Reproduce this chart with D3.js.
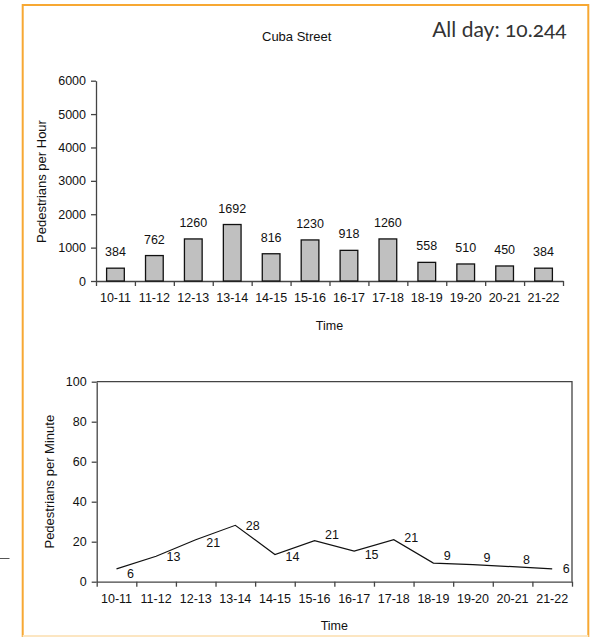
<!DOCTYPE html>
<html>
<head>
<meta charset="utf-8">
<script src="https://cdn.jsdelivr.net/npm/d3@7"></script>
<style>
  html, body { margin: 0; padding: 0; background: #fff; }
  svg { display: block; }
  text { font-family: "Liberation Sans", Arial, sans-serif; fill: #111; }
</style>
</head>
<body>
<svg id="chart" width="596" height="637"></svg>
<script>
// ---- data ----
const categories = ["10-11","11-12","12-13","13-14","14-15","15-16","16-17","17-18","18-19","19-20","20-21","21-22"];
const perHour = [384, 762, 1260, 1692, 816, 1230, 918, 1260, 558, 510, 450, 384];
const perMinute = [6.4, 12.7, 21, 28.2, 13.6, 20.5, 15.3, 21, 9.3, 8.5, 7.5, 6.4];
const perMinuteLabels = ["6","13","21","28","14","21","15","21","9","9","8","6"];
const hourTicks = [0, 1000, 2000, 3000, 4000, 5000, 6000];
const minuteTicks = [0, 20, 40, 60, 80, 100];
const chartTitle = "Cuba Street";
const allDayText = "All day: 10.244";

// ---- layout (label nudges for line chart, px) ----
const lineLabelDy = [5, 1, 3.5, 1, 2.5, -6, 4, -2, -7, -7, -7, 0];

const svg = d3.select("#chart");
const axisColor = "#444";

// frame
svg.append("rect").attr("x", 22.7).attr("y", 5).attr("width", 565.6).attr("height", 631)
  .attr("fill", "none").attr("stroke", "#F7A833").attr("stroke-width", 2);
svg.append("line").attr("x1", 22.7).attr("x2", 588.3).attr("y1", 636).attr("y2", 636)
  .attr("stroke", "#FCE6C2").attr("stroke-width", 2);
// small stray line at left
svg.append("line").attr("x1", 0).attr("x2", 9.5).attr("y1", 558.5).attr("y2", 558.5)
  .attr("stroke", "#555").attr("stroke-width", 1);

// titles
svg.append("text").attr("x", 296.7).attr("y", 41).attr("text-anchor", "middle")
  .style("font-size", "13px").text(chartTitle);
svg.append("text").attr("x", 566.7).attr("y", 36.5).attr("text-anchor", "end")
  .style("font-family", "Lato, 'Open Sans', sans-serif").style("font-size", "21px")
  .style("font-feature-settings", "'onum'").style("fill", "#333").text(allDayText);

function styleAxis(g) {
  g.selectAll("path, line").attr("stroke", axisColor).attr("stroke-width", 1.3);
  g.selectAll("text").style("font-family", "'Liberation Sans', Arial, sans-serif")
    .style("font-size", "12.5px").attr("fill", "#111");
}

// ================= top: bar chart =================
{
  const x0 = 96, x1 = 563, yTop = 80.7, yBot = 281;
  const xb = d3.scaleBand().domain(categories).range([x0, x1]).paddingInner(0.545).paddingOuter(0.2725);
  const xl = d3.scaleLinear().domain([0, categories.length]).range([x0, x1]);
  const y = d3.scaleLinear().domain([0, 6000]).range([yBot, yTop]);

  const gy = svg.append("g").attr("transform", `translate(${x0},0)`)
    .call(d3.axisLeft(y).tickValues(hourTicks).tickFormat(d3.format("d")).tickSize(5).tickPadding(5).tickSizeOuter(0));
  styleAxis(gy);

  const gx = svg.append("g").attr("transform", `translate(0,${yBot})`)
    .call(d3.axisBottom(xl).tickValues(d3.range(categories.length + 1)).tickSize(5).tickFormat("").tickSizeOuter(0));
  styleAxis(gx);

  const gxl = svg.append("g").attr("transform", `translate(0,${yBot})`)
    .call(d3.axisBottom(xb).tickSize(0).tickPadding(12));
  gxl.select(".domain").remove();
  styleAxis(gxl);
  gxl.selectAll("text").attr("dy", "0.71em").attr("y", 12.5);

  svg.append("g").selectAll("rect").data(perHour).join("rect")
    .attr("x", (d, i) => xb(categories[i]))
    .attr("width", xb.bandwidth())
    .attr("y", d => y(d))
    .attr("height", d => yBot - y(d))
    .attr("fill", "#C0C0C0").attr("stroke", "#111").attr("stroke-width", 1.3);

  svg.append("g").selectAll("text").data(perHour).join("text")
    .attr("x", (d, i) => xb(categories[i]) + xb.bandwidth() / 2)
    .attr("y", d => y(d) - 12)
    .attr("text-anchor", "middle").style("font-size", "12.5px").text(d => d);

  svg.append("text").attr("transform", `translate(41.7,181.5) rotate(-90)`)
    .attr("text-anchor", "middle").attr("dominant-baseline", "central")
    .style("font-size", "13px").text("Pedestrians per Hour");
  svg.append("text").attr("x", (x0 + x1) / 2).attr("y", 330).attr("text-anchor", "middle")
    .style("font-size", "12.5px").text("Time");
}

// ================= bottom: line chart =================
{
  const x0 = 96.7, x1 = 572, yTop = 381.7, yBot = 581.7;
  const xb = d3.scaleBand().domain(categories).range([x0, x1]);
  const xl = d3.scaleLinear().domain([0, categories.length]).range([x0, x1]);
  const y = d3.scaleLinear().domain([0, 100]).range([yBot, yTop]);

  // box top/right
  svg.append("path").attr("d", `M${x0},${yTop}H${x1}V${yBot}`)
    .attr("fill", "none").attr("stroke", axisColor).attr("stroke-width", 1.3);

  const gy = svg.append("g").attr("transform", `translate(${x0},0)`)
    .call(d3.axisLeft(y).tickValues(minuteTicks).tickFormat(d3.format("d")).tickSize(5).tickPadding(5).tickSizeOuter(0));
  styleAxis(gy);

  const gx = svg.append("g").attr("transform", `translate(0,${yBot})`)
    .call(d3.axisBottom(xl).tickValues(d3.range(categories.length + 1)).tickSize(5).tickFormat("").tickSizeOuter(0));
  styleAxis(gx);

  const gxl = svg.append("g").attr("transform", `translate(0,${yBot})`)
    .call(d3.axisBottom(xb).tickSize(0).tickPadding(12));
  gxl.select(".domain").remove();
  styleAxis(gxl);
  gxl.selectAll("text").attr("dy", "0.71em").attr("y", 12.5);

  const line = d3.line()
    .x((d, i) => xb(categories[i]) + xb.bandwidth() / 2)
    .y(d => y(d));
  svg.append("path").datum(perMinute).attr("d", line)
    .attr("fill", "none").attr("stroke", "#111").attr("stroke-width", 1.2);

  svg.append("g").selectAll("text").data(perMinute).join("text")
    .attr("x", (d, i) => xb(categories[i]) + xb.bandwidth() / 2 + 10.5)
    .attr("y", (d, i) => y(d) + lineLabelDy[i])
    .attr("dominant-baseline", "central")
    .style("font-size", "12.5px").text((d, i) => perMinuteLabels[i]);

  svg.append("text").attr("transform", `translate(49.3,481.7) rotate(-90)`)
    .attr("text-anchor", "middle").attr("dominant-baseline", "central")
    .style("font-size", "13px").text("Pedestrians per Minute");
  svg.append("text").attr("x", (x0 + x1) / 2).attr("y", 630).attr("text-anchor", "middle")
    .style("font-size", "12.5px").text("Time");
}
</script>
</body>
</html>
